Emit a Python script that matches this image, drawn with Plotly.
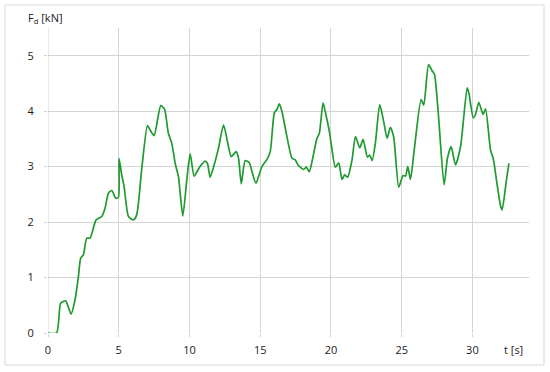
import plotly.graph_objects as go

t_s = [0.0, 0.61, 0.90, 1.25, 1.63, 1.91, 2.15, 2.31, 2.50, 2.74, 2.97, 3.40, 3.80, 4.03, 4.27, 4.51,
       4.79, 4.98, 5.02, 5.21, 5.38, 5.69, 6.04, 6.27, 6.63, 7.03, 7.22, 7.50, 7.97, 8.23, 8.51,
       8.75, 8.99, 9.22, 9.53, 9.81, 10.05, 10.33, 10.71, 11.11, 11.27, 11.46, 11.70, 12.05,
       12.41, 12.76, 12.95, 13.30, 13.47, 13.66, 13.94, 14.23, 14.42, 14.70, 15.12, 15.48,
       15.71, 16.00, 16.18, 16.35, 16.54, 16.89, 17.25, 17.48, 17.67, 18.07, 18.26, 18.47,
       18.71, 19.01, 19.18, 19.44, 19.60, 19.89, 20.03, 20.31, 20.55, 20.78, 20.97, 21.18,
       21.49, 21.73, 22.04, 22.27, 22.58, 22.74, 22.91, 23.14, 23.45, 23.73, 23.97, 24.20,
       24.44, 24.79, 25.10, 25.27, 25.43, 25.62, 25.90, 26.37, 26.56, 26.90, 27.15, 27.32,
       27.58, 28.00, 28.24, 28.50, 28.80, 29.16, 29.63, 29.75, 30.06, 30.22, 30.45, 30.76,
       30.93, 31.28, 31.47, 31.75, 31.99, 32.10, 32.39, 32.58]
force_kn = [0.0, 0.0, 0.54, 0.58, 0.34, 0.60, 1.02, 1.35, 1.41, 1.71, 1.71, 2.04, 2.10, 2.25, 2.52, 2.57,
            2.43, 2.45, 3.15, 2.85, 2.64, 2.10, 2.04, 2.13, 2.97, 3.74, 3.66, 3.56, 4.10, 4.04, 3.60,
            3.42, 3.06, 2.82, 2.11, 2.76, 3.23, 2.83, 2.99, 3.10, 3.06, 2.81, 2.99, 3.33,
            3.75, 3.36, 3.18, 3.27, 3.15, 2.69, 3.11, 3.07, 2.91, 2.70, 3.00, 3.13,
            3.27, 3.97, 4.03, 4.13, 3.99, 3.54, 3.15, 3.12, 3.03, 2.95, 2.99, 2.91,
            3.15, 3.51, 3.60, 4.15, 3.99, 3.63, 3.39, 2.99, 3.07, 2.77, 2.85, 2.81,
            3.12, 3.54, 3.34, 3.49, 3.17, 3.21, 3.11, 3.42, 4.12, 3.81, 3.51, 3.71,
            3.53, 2.63, 2.84, 2.83, 3.00, 2.77, 3.33, 4.21, 4.11, 4.84, 4.73, 4.66,
            3.99, 2.67, 3.16, 3.36, 3.03, 3.36, 4.42, 4.33, 3.88, 3.94, 4.16, 3.94,
            4.04, 3.30, 3.15, 2.67, 2.29, 2.22, 2.73, 3.06]

x_ticks = [0, 5, 10, 15, 20, 25, 30]
y_ticks = [0, 1, 2, 3, 4, 5]

grid = "#d4d4d4"
font = dict(family="Open Sans, Lato, sans-serif", size=11, color="#1a1a1a")

fig = go.Figure()
fig.add_trace(go.Scatter(x=t_s, y=force_kn, mode="lines",
                         line=dict(color="#1f9a30", width=1.7, shape="spline", smoothing=0.6),
                         hoverinfo="skip", showlegend=False))

fig.update_layout(
    width=550, height=372,
    margin=dict(l=48, r=21, t=28, b=39),
    paper_bgcolor="white", plot_bgcolor="white",
    font=font,
    showlegend=False,
    xaxis=dict(range=[0, 34], tickvals=x_ticks, showgrid=True, gridcolor=grid, gridwidth=1,
               zeroline=False, showline=False, ticks="outside", ticklen=3, tickcolor=grid,
               ticklabelstandoff=4, fixedrange=True),
    yaxis=dict(range=[0, 5.5], tickvals=y_ticks, showgrid=True, gridcolor=grid, gridwidth=1,
               zeroline=False, showline=False, ticks="outside", ticklen=3, tickcolor=grid,
               ticklabelstandoff=8, fixedrange=True),
    shapes=[
        dict(type="rect", xref="paper", yref="paper", x0=-0.0894, x1=1.0312, y0=-0.1049, y1=1.0754,
             line=dict(color="#d9d9d9", width=1), fillcolor="rgba(0,0,0,0)", layer="below"),
        dict(type="line", xref="x", yref="paper", x0=0, x1=0, y0=0, y1=1,
             line=dict(color=grid, width=1), layer="below"),
    ],
    annotations=[
        dict(text="F<sub>d</sub> [kN]", xref="paper", yref="paper", x=-0.0457, y=1.033,
             xanchor="left", yanchor="middle", showarrow=False, font=font),
        dict(text="t [s]", xref="paper", yref="paper", x=(502 - 48) / 481, y=(333 - 349) / 305,
             xanchor="left", yanchor="middle", showarrow=False, font=font),
    ],
)

fig.write_html("out.html", config={"displayModeBar": False, "staticPlot": True},
               post_script="document.body.style.margin='0';document.body.style.overflow='hidden';")
